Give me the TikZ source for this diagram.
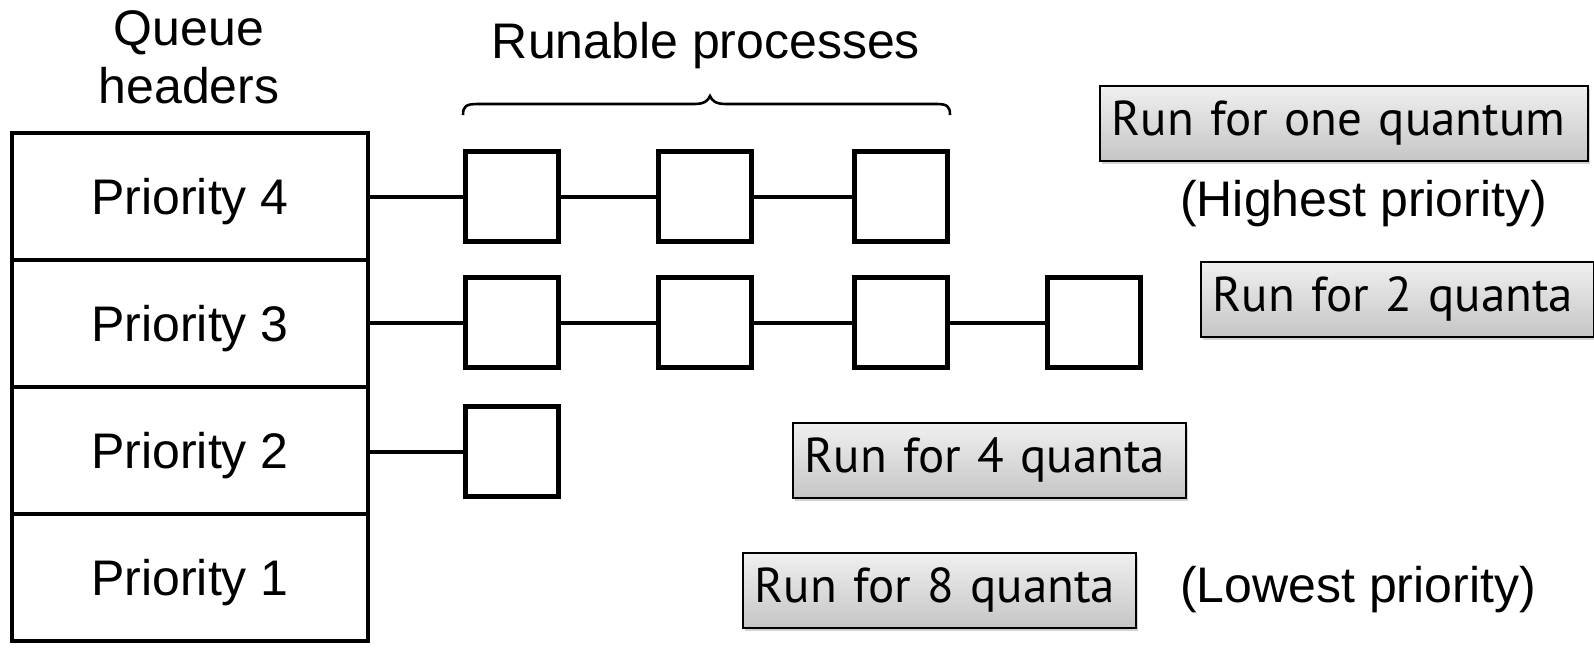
\documentclass[tikz,border=0pt]{standalone}
\usepackage{fontspec}
\setmainfont{Liberation Sans}
\newfontfamily\boxfont{PT Sans}
\usetikzlibrary{shadows}
\begin{document}
\begin{tikzpicture}[x=1pt,y=-1pt,
  hdr/.style={draw, line width=4.5pt, minimum width=356pt, minimum height=127pt,
    inner sep=0pt, text height=36pt, text depth=0pt, font=\fontsize{50}{58}\selectfont},
  proc/.style={draw, line width=4.5pt, minimum width=93pt, minimum height=90pt, inner sep=0pt},
  link/.style={line width=4pt},
  qbox/.style={draw, line width=1.8pt, top color=gray!12, bottom color=gray!45,
    drop shadow={shadow xshift=2pt, shadow yshift=-3pt, opacity=0.35},
    font=\boxfont\fontsize{49}{60}\selectfont, align=left, inner xsep=12pt, inner ysep=0pt,
    minimum height=75pt, anchor=north west},
  lbl/.style={font=\fontsize{50}{58}\selectfont, inner sep=0pt}]
\useasboundingbox (0,0) rectangle (1594,648);
% queue headers
\node[hdr] (h4) at (190,196.5) {Priority 4};
\node[hdr] (h3) at (190,323.5) {Priority 3};
\node[hdr] (h2) at (190,450.5) {Priority 2};
\node[hdr] (h1) at (190,577.5) {Priority 1};
% processes
\node[proc] (p41) at (512,196.5) {};
\node[proc] (p42) at (705,196.5) {};
\node[proc] (p43) at (901,196.5) {};
\node[proc] (p31) at (512,322.5) {};
\node[proc] (p32) at (705,322.5) {};
\node[proc] (p33) at (901,322.5) {};
\node[proc] (p34) at (1094,322.5) {};
\node[proc] (p21) at (512,451.5) {};
\draw[link] (h4.east |- p41) -- (p41) -- (p42) -- (p43);
\draw[link] (h3.east |- p31) -- (p31) -- (p32) -- (p33) -- (p34);
\draw[link] (h2.east |- p21) -- (p21);
% labels
\node[lbl, anchor=base] (qh1) at (189,45) {Queue};
\node[lbl, anchor=base] (qh2) at (189,103) {headers};
\node[lbl, anchor=base] (rp) at (706,58) {Runable processes};
\draw[line width=2.6pt] (463,115) .. controls (463,106) and (466,104) .. (478,104) -- (694,104)
  .. controls (704,104) and (708,101) .. (710,96) .. controls (712,101) and (716,104) .. (726,104)
  -- (936,104) .. controls (947,104) and (950,106) .. (950,115);
\node[lbl, anchor=base west] (hp) at (1180,216) {(Highest priority)};
\node[lbl, anchor=base west] (lp) at (1180,602) {(Lowest priority)};
% quanta boxes
\node[qbox, text width=464pt] (q1) at (1099,85) {\mbox{Run for one quantum}};
\node[qbox, text width=369pt] (q2) at (1200,261) {\mbox{Run for 2 quanta}};
\node[qbox, text width=369pt] (q4) at (792,422) {\mbox{Run for 4 quanta}};
\node[qbox, text width=369pt] (q8) at (742,552) {\mbox{Run for 8 quanta}};
\end{tikzpicture}
\end{document}
